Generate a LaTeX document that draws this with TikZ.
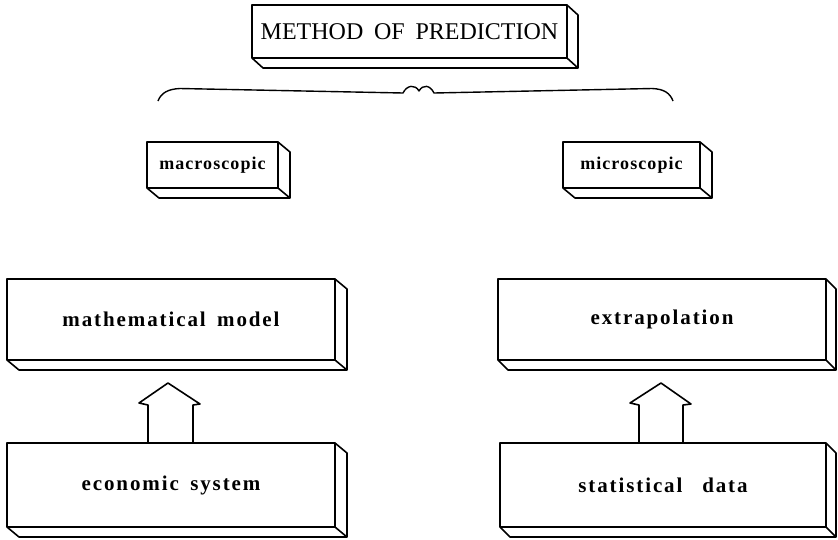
\documentclass[tikz,border=0pt]{standalone}
\usepackage{fontspec}
\setmainfont{Liberation Serif}
\newfontfamily\labelfont[LetterSpace=9,WordSpace=1.6]{Liberation Serif Bold}
\newfontfamily\smalllabelfont[LetterSpace=6,WordSpace=1.6]{Liberation Serif Bold}
\newfontfamily\titlefont[LetterSpace=0,WordSpace=1.8]{Liberation Serif}
\usetikzlibrary{calc}
\begin{document}
\begin{tikzpicture}[x=1pt,y=-1pt,line width=1.6pt,line join=round,
  slab/.style={draw,rectangle,outer sep=0pt,inner sep=0pt,font=\labelfont\fontsize{21}{23}\selectfont},
  smallslab/.style={slab,font=\smalllabelfont\fontsize{18}{20}\selectfont},
  titleslab/.style={slab,font=\titlefont\fontsize{24}{26}\selectfont}]
\useasboundingbox (0,0) rectangle (838,539);
% front faces
\node[titleslab,minimum width=315pt,minimum height=53pt] (title) at (409.5,31.5) {METHOD OF PREDICTION};
\node[smallslab,minimum width=131pt,minimum height=46pt] (macro) at (212.5,165) {macroscopic};
\node[smallslab,minimum width=137pt,minimum height=46pt] (micro) at (631.5,165) {microscopic};
\node[slab,minimum width=328pt,minimum height=81pt] (math) at (171,319.5) {mathematical model};
\node[slab,minimum width=328pt,minimum height=81pt] (extra) at (662,319.5) {extrapolation};
\node[slab,minimum width=328pt,minimum height=84pt] (econ) at (171,485) {economic system};
\node[slab,minimum width=326pt,minimum height=84pt] (stat) at (663,485) {statistical\hspace{0.4em} data};
% depth faces
\foreach \n/\d in {title/11,macro/12,micro/12,math/12,extra/10,econ/12,stat/10}{
  \draw (\n.north east) -- ($(\n.north east)+(\d,10)$) -- ($(\n.south east)+(\d,10)$)
        -- ($(\n.south west)+(\d,10)$) -- (\n.south west);
  \draw (\n.south east) -- ($(\n.south east)+(\d,10)$);
}
% brace
\draw[line width=1.4pt] (158,101) .. controls (161,93) and (168,89) .. (180,88.5)
  -- (403,93) .. controls (407,85) and (415,84) .. (419,91)
  .. controls (423,84) and (430,85) .. (434,93)
  -- (652,88.5) .. controls (664,89) and (670,93) .. (673,101);
% hollow arrows
\draw ($(econ.north)+(-23,0)$) -- ($(econ.north)+(-23,-38)$) -- ($(econ.north)+(-32,-40)$)
  -- ($(math.south)+(-3,23)$) -- ($(econ.north)+(29,-39)$) -- ($(econ.north)+(22,-38)$)
  -- ($(econ.north)+(22,0)$);
\draw ($(stat.north)+(-24,0)$) -- ($(stat.north)+(-24,-38)$) -- ($(stat.north)+(-33,-40)$)
  -- ($(extra.south)+(-1,23)$) -- ($(stat.north)+(28,-39)$) -- ($(stat.north)+(20,-38)$)
  -- ($(stat.north)+(20,0)$);
\end{tikzpicture}
\end{document}
